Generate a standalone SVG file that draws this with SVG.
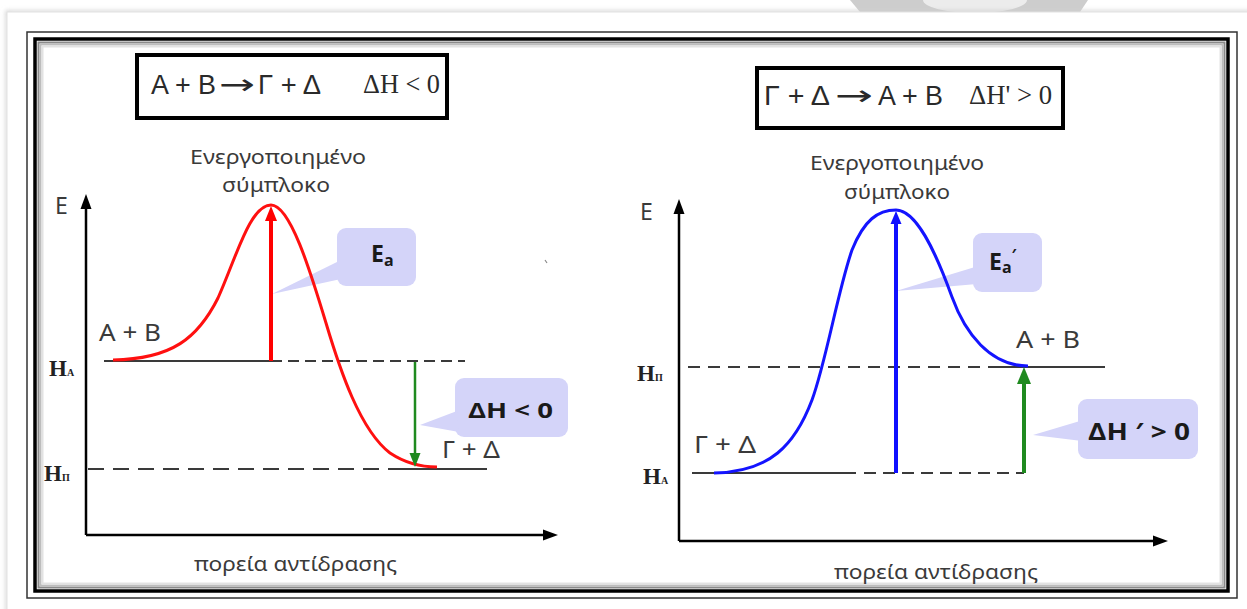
<svg xmlns="http://www.w3.org/2000/svg" width="1247" height="609" viewBox="0 0 1247 609">
<defs>
<style>
.sans{font-family:"Noto Sans","Open Sans","DejaVu Sans",sans-serif;fill:#3a3a3a}
.eq{font-family:"Liberation Sans",Arial,sans-serif;fill:#2a2a2a;font-size:28px}
.arr{font-family:"DejaVu Sans",sans-serif;fill:#2a2a2a;font-size:28px}
.eqs{font-family:"Liberation Serif","Times New Roman",serif;fill:#2a2a2a;font-size:27px}
.hl{font-family:"Liberation Serif","Times New Roman",serif;font-weight:bold;fill:#222}
.bt{font-family:"Open Sans","Noto Sans",sans-serif;font-weight:bold;fill:#1a1a1a}
.bub{fill:#d4d4f9}
.axis{stroke:#000;stroke-width:2.5;fill:none}
.lvl{stroke:#3a3a3a;stroke-width:2;fill:none}
.box{fill:#fff;stroke:#000;stroke-width:4}
</style>
<filter id="blur" x="-5%" y="-5%" width="110%" height="110%"><feGaussianBlur stdDeviation="2"/></filter>
</defs>
<rect width="1247" height="609" fill="#fff"/>
<!-- background blob top right -->
<path d="M850,0 L1088,0 L1080,12 L860,12 Z" fill="#cdcdcd"/>
<ellipse cx="975" cy="0" rx="52" ry="13" fill="#ececec"/>
<!-- card -->
<rect x="7" y="12" width="1262" height="622" fill="none" stroke="#cfcfcf" stroke-width="3" filter="url(#blur)"/>
<rect x="7" y="12" width="1262" height="622" fill="#fff" stroke="#e2e2e2" stroke-width="1"/>
<!-- frame -->
<g id="frame">
<rect x="27" y="32" width="1210" height="566" fill="none" stroke="#333" stroke-width="1.5"/>
<rect x="35" y="39" width="1193" height="552" fill="none" stroke="#000" stroke-width="3.5"/>
<rect x="38.5" y="42.5" width="1186" height="545" fill="none" stroke="#8a8a8a" stroke-width="2"/>
<rect x="40.5" y="44.5" width="1182" height="541" fill="none" stroke="#bdbdbd" stroke-width="2"/>
<rect x="42.5" y="46.5" width="1178" height="537" fill="none" stroke="#e2e2e2" stroke-width="2"/>
</g>

<!-- LEFT CHART -->
<g id="eq-left">
<rect class="box" x="137" y="55" width="310" height="63"/>
<text class="eq" x="151" y="94" textLength="65" lengthAdjust="spacingAndGlyphs">A + B</text>
<text class="arr" x="219" y="94" textLength="36" lengthAdjust="spacingAndGlyphs">→</text>
<text class="eq" x="258" y="94" textLength="63" lengthAdjust="spacingAndGlyphs">Γ + Δ</text>
<text class="eqs" x="363" y="93" textLength="77" lengthAdjust="spacingAndGlyphs">ΔH &lt; 0</text>
</g>
<g id="complex-left">
<text class="sans" x="190" y="164" font-size="20" textLength="176" lengthAdjust="spacingAndGlyphs">Ενεργοποιημένο</text>
<text class="sans" x="222" y="192" font-size="20" textLength="108" lengthAdjust="spacingAndGlyphs">σύμπλοκο</text>
</g>
<g id="axis-label-left">
<text class="sans" x="55" y="214" font-size="23">E</text>
<text class="sans" x="194" y="571" font-size="20" textLength="203" lengthAdjust="spacingAndGlyphs">πορεία αντίδρασης</text>
</g>
<g id="reactants-left">
<text class="sans" x="99" y="341" font-size="23" textLength="62" lengthAdjust="spacingAndGlyphs">A + B</text>
</g>
<g id="products-left">
<text class="sans" x="442" y="458" font-size="23" textLength="58" lengthAdjust="spacingAndGlyphs">Γ + Δ</text>
</g>
<g id="HA-left">
<text class="hl" x="49" y="376" font-size="23">H<tspan font-size="10">A</tspan></text>
</g>
<g id="HP-left">
<text class="hl" x="44" y="481" font-size="23">H<tspan font-size="10">Π</tspan></text>
</g>
<g id="Ea-bubble">
<rect class="bub" x="337" y="228" width="79" height="58" rx="9"/>
<polygon class="bub" points="339,261 272,294 341,279"/>
<text class="bt" x="371" y="262" font-size="23">E<tspan font-size="16" dy="4">a</tspan></text>
</g>
<g id="dH-bubble-left">
<rect class="bub" x="455" y="378" width="113" height="59" rx="9"/>
<polygon class="bub" points="457,411 420,425 459,432"/>
<text class="bt" x="468" y="418" font-size="21" textLength="85" lengthAdjust="spacingAndGlyphs">ΔH &lt; 0</text>
</g>
<path d="M545,260 l2,3" stroke="#888" stroke-width="1.2"/>

<!-- RIGHT CHART -->
<g id="eq-right">
<rect class="box" x="757" y="68" width="306" height="60"/>
<text class="eq" x="764" y="105" textLength="66" lengthAdjust="spacingAndGlyphs">Γ + Δ</text>
<text class="arr" x="835" y="105" textLength="38" lengthAdjust="spacingAndGlyphs">→</text>
<text class="eq" x="878" y="105" textLength="65" lengthAdjust="spacingAndGlyphs">A + B</text>
<text class="eqs" x="969" y="104" textLength="83" lengthAdjust="spacingAndGlyphs">ΔH' &gt; 0</text>
</g>
<g id="complex-right">
<text class="sans" x="810" y="170" font-size="20" textLength="174" lengthAdjust="spacingAndGlyphs">Ενεργοποιημένο</text>
<text class="sans" x="844" y="199" font-size="20" textLength="106" lengthAdjust="spacingAndGlyphs">σύμπλοκο</text>
</g>
<g id="axis-label-right">
<text class="sans" x="640" y="220" font-size="23">E</text>
<text class="sans" x="834" y="579" font-size="20" textLength="204" lengthAdjust="spacingAndGlyphs">πορεία αντίδρασης</text>
</g>
<g id="reactants-right">
<text class="sans" x="694" y="453" font-size="23" textLength="62" lengthAdjust="spacingAndGlyphs">Γ + Δ</text>
</g>
<g id="products-right">
<text class="sans" x="1016" y="348" font-size="23" textLength="64" lengthAdjust="spacingAndGlyphs">A + B</text>
</g>
<g id="HP-right">
<text class="hl" x="637" y="381" font-size="23">H<tspan font-size="10">Π</tspan></text>
</g>
<g id="HA-right">
<text class="hl" x="643" y="484" font-size="23">H<tspan font-size="10">A</tspan></text>
</g>
<g id="Ea2-bubble">
<rect class="bub" x="973" y="233" width="69" height="59" rx="9"/>
<polygon class="bub" points="975,267 896,291 977,284"/>
<text class="bt" x="989" y="270" font-size="23">E<tspan font-size="16" dy="3">a</tspan><tspan font-size="16" dy="-12">′</tspan></text>
</g>
<g id="dH-bubble-right">
<rect class="bub" x="1078" y="399" width="120" height="60" rx="9"/>
<polygon class="bub" points="1080,421 1033,435 1082,441"/>
<text class="bt" x="1088" y="440" font-size="24" textLength="102" lengthAdjust="spacingAndGlyphs">ΔH ′ &gt; 0</text>
</g>

<g id="connectors">
<!-- left axes -->
<path class="axis" d="M86,535 V206 M86,535 H546"/>
<polygon points="86,194 80.5,209 91.5,209" fill="#000"/>
<polygon points="558,535 543,529.5 543,540.5" fill="#000"/>
<!-- left levels -->
<path class="lvl" d="M104,361 H271"/>
<path class="lvl" d="M271,361 H465" stroke-dasharray="11,6"/>
<path class="lvl" d="M88,469 H397" stroke-dasharray="16,9"/>
<path class="lvl" d="M397,469 H487"/>
<!-- red curve -->
<path d="M113,360 C172,359 198,338 218,298 C236,258 250,205 271,205 C290,205 310,270 326,323 C340,370 360,430 390,453 C405,463 420,467 437,467" fill="none" stroke="#ff1010" stroke-width="3"/>
<!-- red arrow -->
<path d="M271,361 V218" stroke="#ff0000" stroke-width="4" fill="none"/>
<polygon points="271,206 265,221 277,221" fill="#ff0000"/>
<!-- green arrow left -->
<path d="M415,362 V455" stroke="#1f8a1f" stroke-width="2.5" fill="none"/>
<polygon points="415,467 409.5,453 420.5,453" fill="#1f8a1f"/>

<!-- right axes -->
<path class="axis" d="M679,541 V211 M679,541 H1156"/>
<polygon points="679,199 673.5,214 684.5,214" fill="#000"/>
<polygon points="1168,541 1153,535.5 1153,546.5" fill="#000"/>
<!-- right levels -->
<path class="lvl" d="M688,367 H1000" stroke-dasharray="12,8"/>
<path class="lvl" d="M1000,367 H1105"/>
<path class="lvl" d="M692,473 H856" stroke-width="3" stroke="#222"/>
<path class="lvl" d="M864,473 H1024" stroke-dasharray="12,7"/>
<!-- blue curve -->
<path d="M714,473 C770,472 795,445 812,400 C826,362 838,290 852,250 C864,220 878,210 896,210 C916,210 935,250 952,297 C965,333 990,366 1028,366" fill="none" stroke="#1414ff" stroke-width="3"/>
<!-- blue arrow -->
<path d="M896,473 V222" stroke="#1010ff" stroke-width="4" fill="none"/>
<polygon points="896,211 890.5,224 901.5,224" fill="#1010ff"/>
<!-- green arrow right -->
<path d="M1024,473 V381" stroke="#1f8a1f" stroke-width="4" fill="none"/>
<polygon points="1024,367 1017,384 1031,384" fill="#1f8a1f"/>
</g>
</svg>
